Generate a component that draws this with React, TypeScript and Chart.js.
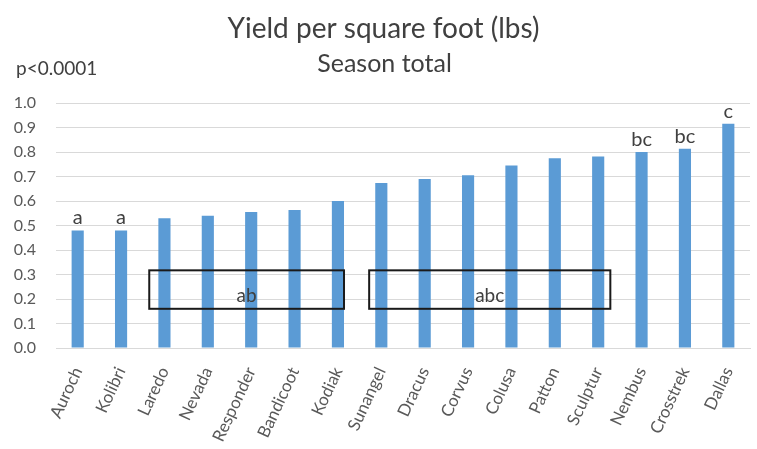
import React, { useEffect, useRef } from "react";
import { Chart, registerables } from "chart.js";

Chart.register(...registerables);

const categories = [
  "Auroch", "Kolibri", "Laredo", "Nevada", "Responder", "Bandicoot", "Kodiak", "Sunangel",
  "Dracus", "Corvus", "Colusa", "Patton", "Sculptur", "Nembus", "Crosstrek", "Dallas",
];
const yieldValues = [
  0.48, 0.48, 0.53, 0.54, 0.555, 0.563, 0.6, 0.673,
  0.69, 0.705, 0.745, 0.775, 0.782, 0.8, 0.813, 0.915,
];
const letters = ["a", "a", "", "", "", "", "", "", "", "", "", "", "", "bc", "bc", "c"];
const yTicks = [0, 0.1, 0.2, 0.3, 0.4, 0.5, 0.6, 0.7, 0.8, 0.9, 1.0];

const boxLabels = ["ab", "abc"];
const boxStart = [1.65, 6.72];
const boxEnd = [6.14, 12.28];
const boxLow = [0.16, 0.16];
const boxHigh = [0.317, 0.317];

const titleText = "Yield per square foot (lbs)";
const subtitleText = "Season total";
const pValueText = "p<0.0001";

const FONT = "Lato, 'Open Sans', sans-serif";
const TEXT = "#404040";
const TICK = "#595959";

const annotPlugin = {
  id: "annot",
  afterDatasetsDraw(chart: any) {
    const { ctx, scales, width } = chart;
    const x = scales.x;
    const y = scales.y;
    ctx.save();
    ctx.fillStyle = TEXT;
    // significance letters above bars
    ctx.font = `20px ${FONT}`;
    ctx.textAlign = "center";
    ctx.textBaseline = "alphabetic";
    letters.forEach((l, i) => {
      if (!l) return;
      ctx.fillText(l, x.getPixelForValue(i), y.getPixelForValue(yieldValues[i]) - 6);
    });
    // grouping boxes
    ctx.strokeStyle = "#1a1a1a";
    ctx.lineWidth = 2;
    ctx.font = `19px ${FONT}`;
    boxLabels.forEach((lab, k) => {
      const x1 = x.getPixelForValue(boxStart[k]);
      const x2 = x.getPixelForValue(boxEnd[k]);
      const y1 = y.getPixelForValue(boxHigh[k]);
      const y2 = y.getPixelForValue(boxLow[k]);
      ctx.strokeRect(x1, y1, x2 - x1, y2 - y1);
      ctx.fillText(lab, (x1 + x2) / 2, (y1 + y2) / 2 + 12);
    });
    // titles
    ctx.font = `28px ${FONT}`;
    ctx.fillText(titleText, width / 2 + 5, 38);
    ctx.font = `25px ${FONT}`;
    ctx.fillText(subtitleText, width / 2 + 6, 72);
    ctx.font = `19px ${FONT}`;
    ctx.textAlign = "left";
    ctx.fillText(pValueText, 16, 75);
    ctx.restore();
  },
};

export default function App() {
  const ref = useRef<HTMLCanvasElement>(null);
  useEffect(() => {
    document.body.style.margin = "0";
    const chart = new Chart(ref.current!, {
      type: "bar",
      data: {
        labels: categories,
        datasets: [
          {
            data: yieldValues,
            backgroundColor: "#5b9bd5",
            barPercentage: 0.28,
            categoryPercentage: 1,
          },
        ],
      },
      options: {
        animation: false,
        responsive: false,
        layout: { padding: { left: 13, right: 7, top: 103, bottom: 0 } },
        plugins: {
          legend: { display: false },
          tooltip: { enabled: false },
          title: { display: false },
        },
        scales: {
          x: {
            grid: { display: false },
            border: { color: "#d9d9d9" },
            afterFit: (axis: any) => {
              axis.paddingLeft = 0;
              axis.paddingRight = 0;
              axis.height = 101;
            },
            ticks: {
              color: TICK,
              font: { family: FONT, size: 17 },
              minRotation: 65,
              maxRotation: 65,
              autoSkip: false,
              padding: 8,
            },
          },
          y: {
            min: 0,
            max: 1,
            afterBuildTicks: (axis: any) => {
              axis.ticks = yTicks.map((v) => ({ value: v }));
            },
            afterFit: (axis: any) => {
              axis.width = 43;
              axis.paddingTop = 0;
              axis.paddingBottom = 0;
            },
            grid: { color: "#d9d9d9", drawTicks: false },
            border: { display: false },
            ticks: {
              color: TICK,
              font: { family: FONT, size: 16 },
              padding: 20,
              callback: (v: any) => Number(v).toFixed(1),
            },
          },
        },
      },
      plugins: [annotPlugin],
    });
    return () => chart.destroy();
  }, []);
  return <canvas ref={ref} width={757} height={449} style={{ display: "block" }} />;
}
